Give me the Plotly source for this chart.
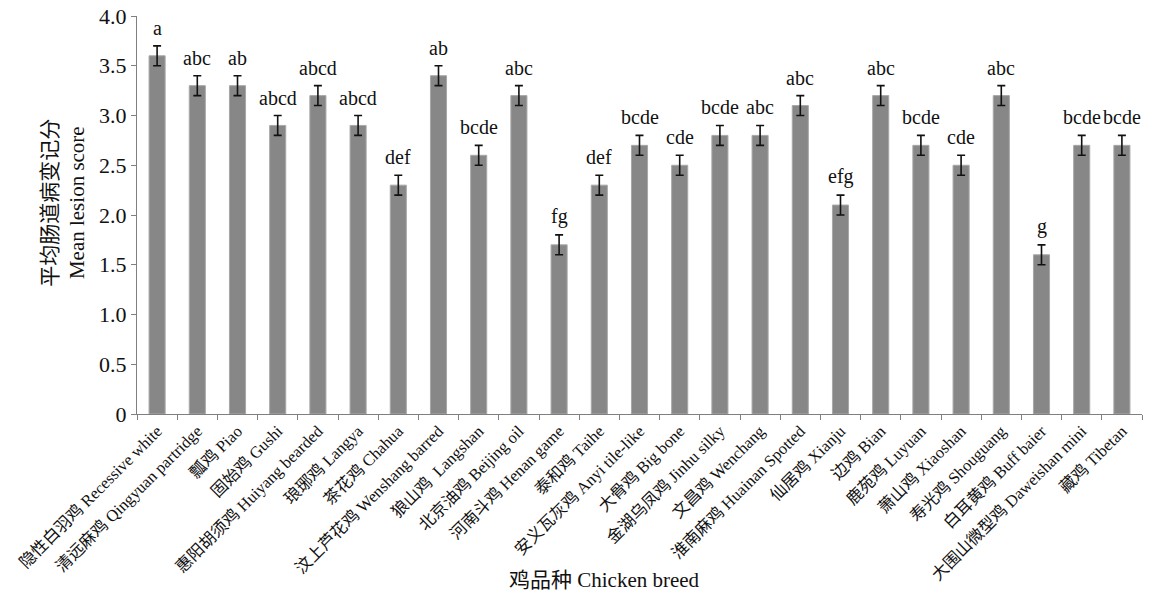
import plotly.graph_objects as go

breeds = [
    "隐性白羽鸡 Recessive white", "清远麻鸡 Qingyuan partridge", "瓢鸡 Piao",
    "固始鸡 Gushi", "惠阳胡须鸡 Huiyang bearded", "琅琊鸡 Langya",
    "茶花鸡 Chahua", "汶上芦花鸡 Wenshang barred", "狼山鸡  Langshan",
    "北京油鸡 Beijing oil", "河南斗鸡 Henan game", "泰和鸡 Taihe",
    "安义瓦灰鸡 Anyi tile-like", "大骨鸡 Big bone", "金湖乌凤鸡 Jinhu silky",
    "文昌鸡 Wenchang", "淮南麻鸡 Huainan Spotted", "仙居鸡 Xianju",
    "边鸡 Bian", "鹿苑鸡 Luyuan", "萧山鸡 Xiaoshan", "寿光鸡 Shouguang",
    "白耳黄鸡 Buff baier", "大围山微型鸡 Daweishan mini", "藏鸡 Tibetan",
]
mean_scores = [3.6, 3.3, 3.3, 2.9, 3.2, 2.9, 2.3, 3.4, 2.6, 3.2, 1.7, 2.3, 2.7,
               2.5, 2.8, 2.8, 3.1, 2.1, 3.2, 2.7, 2.5, 3.2, 1.6, 2.7, 2.7]
std_errors = [0.1] * 25
groups = ["a", "abc", "ab", "abcd", "abcd", "abcd", "def", "ab", "bcde", "abc",
          "fg", "def", "bcde", "cde", "bcde", "abc", "abc", "efg", "abc", "bcde",
          "cde", "abc", "g", "bcde", "bcde"]
y_ticks = [0, 0.5, 1.0, 1.5, 2.0, 2.5, 3.0, 3.5, 4.0]
y_tick_text = ["0", "0.5", "1.0", "1.5", "2.0", "2.5", "3.0", "3.5", "4.0"]

FONT = "Liberation Serif, Times New Roman, Noto Sans CJK SC, serif"
INK = "#111111"

fig = go.Figure()
fig.add_trace(go.Bar(
    x=breeds, y=mean_scores, width=0.4,
    marker=dict(color="#878787", line=dict(color="#a8a8a8", width=1)),
    error_y=dict(type="data", array=std_errors, color=INK,
                 thickness=1.6, width=4),
))

# significance letters sit just above each error bar
letter_notes = [
    dict(x=b, y=m + e, text=g, xref="x", yref="y", showarrow=False,
         xanchor="center", yanchor="bottom", yshift=5,
         font=dict(family=FONT, size=20, color=INK))
    for b, m, e, g in zip(breeds, mean_scores, std_errors, groups)
]

title_notes = [
    dict(text="鸡品种 Chicken breed", xref="paper", yref="paper",
         x=0.465, y=-0.417, xanchor="center", yanchor="middle",
         showarrow=False, font=dict(family=FONT, size=21, color=INK)),
    dict(text="平均肠道病变记分<br>Mean lesion score", textangle=-90,
         xref="paper", yref="paper", x=-0.074, y=0.53,
         xanchor="center", yanchor="middle", showarrow=False,
         font=dict(family=FONT, size=21, color=INK)),
]

fig.update_layout(
    width=1167, height=597,
    margin=dict(l=137, r=25, t=16, b=183),
    paper_bgcolor="white", plot_bgcolor="white",
    showlegend=False, bargap=0.6,
    font=dict(family=FONT, color=INK),
    xaxis=dict(
        type="category", range=[-0.5, len(breeds) - 0.5],
        tickangle=-45, tickson="boundaries",
        ticks="outside", ticklen=5, tickcolor="#808080",
        showline=True, linecolor="#808080", linewidth=1,
        tickfont=dict(family=FONT, size=16.5, color=INK),
        automargin=False, showgrid=False,
    ),
    yaxis=dict(
        range=[0, 4.0], tickvals=y_ticks, ticktext=y_tick_text,
        ticks="outside", ticklen=5, tickcolor="#808080",
        showline=True, linecolor="#808080", linewidth=1,
        tickfont=dict(family=FONT, size=22, color=INK),
        automargin=False, showgrid=False, zeroline=False,
    ),
    annotations=letter_notes + title_notes,
)

fig.write_html("out.html")
